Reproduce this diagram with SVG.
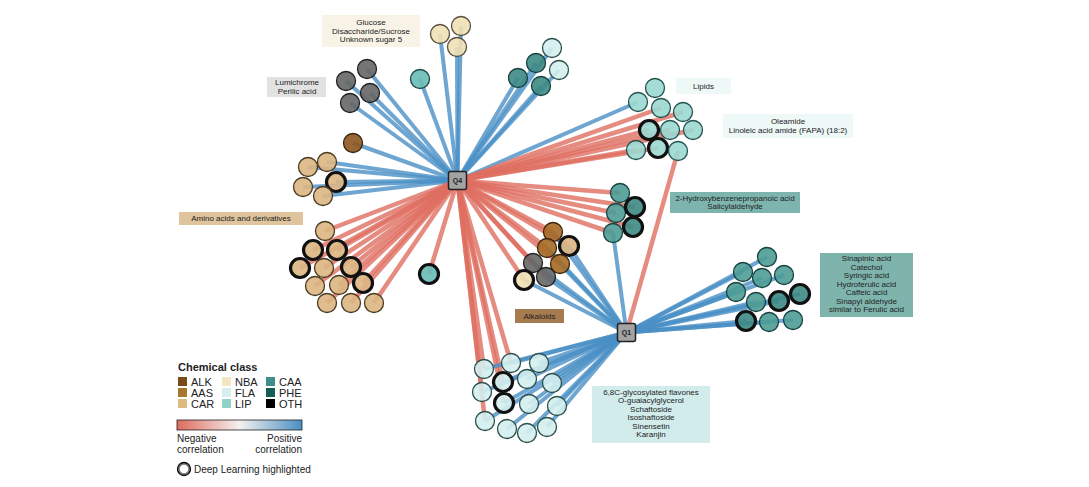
<svg xmlns="http://www.w3.org/2000/svg" width="1089" height="487" viewBox="0 0 1089 487">
<defs>
<linearGradient id="corr" x1="0" y1="0" x2="1" y2="0">
<stop offset="0" stop-color="#df6b5f"/>
<stop offset="0.5" stop-color="#f4f1ee"/>
<stop offset="1" stop-color="#4a8fc4"/>
</linearGradient>
<style>
text{font-family:"Liberation Sans",Arial,sans-serif;fill:#222}
.lb{font-size:8px;text-anchor:middle}
.p{stroke:#4a90c5;stroke-opacity:.8;stroke-width:4;fill:none}
.m{stroke:#df6e60;stroke-opacity:.8;stroke-width:4.5;fill:none}
circle.n{stroke-width:1.3;fill-opacity:.9}
.alk{fill:#8e5720;stroke:#3a2610}
.aas{fill:#a66a26;stroke:#3a2610}
.car{fill:#dbb683;stroke:#4a3a20}
.nba{fill:#efe1b5;stroke:#5a5040}
.fla{fill:#d4eeee;stroke:#2b4f4d}
.lip{fill:#9bd8d0;stroke:#235350}
.lip2{fill:#68bcb6;stroke:#1d4a47}
.caa{fill:#4c9c95;stroke:#17423f}
.phe{fill:#3d8a84;stroke:#17423f}
.oth{fill:#666;stroke:#222}
circle.hl{stroke:#111;stroke-width:3.2}
.q{fill:#a3a3a3;stroke:#222;stroke-width:1.5}
.ql{font-size:7px;font-weight:bold;text-anchor:middle}
.lg{font-size:11px}
.lg2{font-size:10px}
</style>
</defs>
<rect width="1089" height="487" fill="#fff"/>

<g id="connectors">
<!-- Q4 positive -->
<line class="p" x1="457.5" y1="180.5" x2="346" y2="81"/>
<line class="p" x1="457.5" y1="180.5" x2="367" y2="69"/>
<line class="p" x1="457.5" y1="180.5" x2="370" y2="93"/>
<line class="p" x1="457.5" y1="180.5" x2="350" y2="103"/>
<line class="p" x1="457.5" y1="180.5" x2="440" y2="34"/>
<line class="p" x1="457.5" y1="180.5" x2="461" y2="26"/>
<line class="p" x1="457.5" y1="180.5" x2="457" y2="47"/>
<line class="p" x1="457.5" y1="180.5" x2="420" y2="79"/>
<line class="p" x1="457.5" y1="180.5" x2="518" y2="78"/>
<line class="p" x1="457.5" y1="180.5" x2="536" y2="63"/>
<line class="p" x1="457.5" y1="180.5" x2="541" y2="86"/>
<line class="p" x1="457.5" y1="180.5" x2="552" y2="48"/>
<line class="p" x1="457.5" y1="180.5" x2="559" y2="70"/>
<line class="p" x1="457.5" y1="180.5" x2="638" y2="102"/>
<line class="p" x1="457.5" y1="180.5" x2="308" y2="167"/>
<line class="p" x1="457.5" y1="180.5" x2="327" y2="162"/>
<line class="p" x1="457.5" y1="180.5" x2="303" y2="187"/>
<line class="p" x1="457.5" y1="180.5" x2="336" y2="182"/>
<line class="p" x1="457.5" y1="180.5" x2="323" y2="196"/>
<line class="p" x1="457.5" y1="180.5" x2="353" y2="143"/>
<!-- Q4 negative -->
<line class="m" x1="457.5" y1="180.5" x2="661" y2="108"/>
<line class="m" x1="457.5" y1="180.5" x2="683" y2="112"/>
<line class="m" x1="457.5" y1="180.5" x2="649" y2="130"/>
<line class="m" x1="457.5" y1="180.5" x2="670" y2="130"/>
<line class="m" x1="457.5" y1="180.5" x2="693" y2="130"/>
<line class="m" x1="457.5" y1="180.5" x2="636" y2="150"/>
<line class="m" x1="457.5" y1="180.5" x2="658" y2="148"/>
<line class="m" x1="457.5" y1="180.5" x2="620" y2="193"/>
<line class="m" x1="457.5" y1="180.5" x2="616" y2="213"/>
<line class="m" x1="457.5" y1="180.5" x2="635" y2="207"/>
<line class="m" x1="457.5" y1="180.5" x2="633" y2="227"/>
<line class="m" x1="457.5" y1="180.5" x2="613" y2="233"/>
<line class="m" x1="457.5" y1="180.5" x2="325" y2="231"/>
<line class="m" x1="457.5" y1="180.5" x2="313" y2="250"/>
<line class="m" x1="457.5" y1="180.5" x2="337" y2="250"/>
<line class="m" x1="457.5" y1="180.5" x2="300" y2="268"/>
<line class="m" x1="457.5" y1="180.5" x2="324" y2="268"/>
<line class="m" x1="457.5" y1="180.5" x2="351" y2="267"/>
<line class="m" x1="457.5" y1="180.5" x2="315" y2="286"/>
<line class="m" x1="457.5" y1="180.5" x2="339" y2="285"/>
<line class="m" x1="457.5" y1="180.5" x2="363" y2="283"/>
<line class="m" x1="457.5" y1="180.5" x2="327" y2="303"/>
<line class="m" x1="457.5" y1="180.5" x2="351" y2="303"/>
<line class="m" x1="457.5" y1="180.5" x2="374" y2="303"/>
<line class="m" x1="457.5" y1="180.5" x2="429" y2="274"/>
<line class="m" x1="457.5" y1="180.5" x2="553" y2="232"/>
<line class="m" x1="457.5" y1="180.5" x2="547" y2="248"/>
<line class="m" x1="457.5" y1="180.5" x2="569" y2="246"/>
<line class="m" x1="457.5" y1="180.5" x2="560" y2="264"/>
<line class="m" x1="457.5" y1="180.5" x2="533" y2="263"/>
<line class="m" x1="457.5" y1="180.5" x2="524" y2="280"/>
<line class="m" x1="457.5" y1="180.5" x2="546" y2="277"/>
<line class="m" x1="457.5" y1="180.5" x2="484" y2="369"/>
<line class="m" x1="457.5" y1="180.5" x2="485" y2="421"/>
<line class="m" x1="457.5" y1="180.5" x2="482" y2="392"/>
<line class="m" x1="457.5" y1="180.5" x2="511" y2="363"/>
<line class="m" x1="457.5" y1="180.5" x2="503" y2="382"/>
<line class="m" x1="457.5" y1="180.5" x2="504" y2="403"/>
<!-- Q1 -->
<line class="m" x1="626.5" y1="332.5" x2="678" y2="151"/>
<line class="p" x1="626.5" y1="332.5" x2="613" y2="233"/>
<line class="p" x1="626.5" y1="332.5" x2="767" y2="257"/>
<line class="p" x1="626.5" y1="332.5" x2="743" y2="272"/>
<line class="p" x1="626.5" y1="332.5" x2="762" y2="278"/>
<line class="p" x1="626.5" y1="332.5" x2="784" y2="275"/>
<line class="p" x1="626.5" y1="332.5" x2="736" y2="292"/>
<line class="p" x1="626.5" y1="332.5" x2="756" y2="302"/>
<line class="p" x1="626.5" y1="332.5" x2="779" y2="301"/>
<line class="p" x1="626.5" y1="332.5" x2="800" y2="294"/>
<line class="p" x1="626.5" y1="332.5" x2="746" y2="321"/>
<line class="p" x1="626.5" y1="332.5" x2="769" y2="322"/>
<line class="p" x1="626.5" y1="332.5" x2="793" y2="320"/>
<line class="p" x1="626.5" y1="332.5" x2="553" y2="232"/>
<line class="p" x1="626.5" y1="332.5" x2="547" y2="248"/>
<line class="p" x1="626.5" y1="332.5" x2="569" y2="246"/>
<line class="p" x1="626.5" y1="332.5" x2="560" y2="264"/>
<line class="p" x1="626.5" y1="332.5" x2="533" y2="263"/>
<line class="p" x1="626.5" y1="332.5" x2="524" y2="280"/>
<line class="p" x1="626.5" y1="332.5" x2="546" y2="277"/>
<line class="p" x1="626.5" y1="332.5" x2="484" y2="369"/>
<line class="p" x1="626.5" y1="332.5" x2="511" y2="363"/>
<line class="p" x1="626.5" y1="332.5" x2="539" y2="363"/>
<line class="p" x1="626.5" y1="332.5" x2="503" y2="382"/>
<line class="p" x1="626.5" y1="332.5" x2="527" y2="379"/>
<line class="p" x1="626.5" y1="332.5" x2="552" y2="383"/>
<line class="p" x1="626.5" y1="332.5" x2="482" y2="392"/>
<line class="p" x1="626.5" y1="332.5" x2="504" y2="403"/>
<line class="p" x1="626.5" y1="332.5" x2="529" y2="404"/>
<line class="p" x1="626.5" y1="332.5" x2="557" y2="406"/>
<line class="p" x1="626.5" y1="332.5" x2="485" y2="421"/>
<line class="p" x1="626.5" y1="332.5" x2="507" y2="429"/>
<line class="p" x1="626.5" y1="332.5" x2="527" y2="433"/>
<line class="p" x1="626.5" y1="332.5" x2="547" y2="427"/>
</g>

<!-- Labels -->
<g id="label-sugars"><rect x="322" y="15" width="98" height="32" fill="#f8f3e6"/>
<text class="lb" x="371" y="25">Glucose</text><text class="lb" x="371" y="33.5">Disaccharide/Sucrose</text><text class="lb" x="371" y="42">Unknown sugar 5</text></g>
<g id="label-oth"><rect x="267" y="77" width="59" height="20" fill="#e2e2e2"/>
<text class="lb" x="297" y="85">Lumichrome</text><text class="lb" x="297" y="93.5">Perilic acid</text></g>
<g id="label-lipids"><rect x="676" y="78" width="55" height="16" fill="#eef8f7"/>
<text class="lb" x="703.5" y="88.5">Lipids</text></g>
<g id="label-oleamide"><rect x="723" y="114" width="130" height="24" fill="#eef8f7"/>
<text class="lb" x="788" y="124">Oleamide</text><text class="lb" x="788" y="133">Linoleic acid amide (FAPA) (18:2)</text></g>
<g id="label-amino"><rect x="179" y="212" width="124" height="13" fill="#dfc49d"/>
<text class="lb" x="241" y="221">Amino acids and derivatives</text></g>
<g id="label-phe"><rect x="670" y="192" width="130" height="21" fill="#7db5ae"/>
<text class="lb" x="735" y="200.5">2-Hydroxybenzenepropanoic acid</text><text class="lb" x="735" y="209">Salicylaldehyde</text></g>
<g id="label-alk"><rect x="515" y="309" width="49" height="14" fill="#a67b4f"/>
<text class="lb" x="539.5" y="319">Alkaloids</text></g>
<g id="label-caa"><rect x="820" y="253" width="93" height="64" fill="#7fb4ad"/>
<text class="lb" x="866.5" y="261">Sinapinic acid</text><text class="lb" x="866.5" y="269.5">Catechol</text><text class="lb" x="866.5" y="278">Syringic acid</text><text class="lb" x="866.5" y="286.5">Hydroferulic acid</text><text class="lb" x="866.5" y="295">Caffeic acid</text><text class="lb" x="866.5" y="303.5">Sinapyl aldehyde</text><text class="lb" x="866.5" y="312">similar to Ferulic acid</text></g>
<g id="label-fla"><rect x="592" y="386" width="118" height="57" fill="#d2ecec"/>
<text class="lb" x="651" y="394.5">6,8C-glycosylated flavones</text><text class="lb" x="651" y="403">O-guaiacylglycerol</text><text class="lb" x="651" y="411.5">Schaftoside</text><text class="lb" x="651" y="420">Isoshaftoside</text><text class="lb" x="651" y="428.5">Sinensetin</text><text class="lb" x="651" y="437">Karanjin</text></g>

<!-- Nodes -->
<g id="oth1"><circle class="n oth" cx="346" cy="81" r="9.5"/></g>
<g id="oth2"><circle class="n oth" cx="367" cy="69" r="9.5"/></g>
<g id="oth3"><circle class="n oth" cx="370" cy="93" r="9.5"/></g>
<g id="oth4"><circle class="n oth" cx="350" cy="103" r="9.5"/></g>
<g id="nba1"><circle class="n nba" cx="440" cy="34" r="9.5"/></g>
<g id="nba2"><circle class="n nba" cx="461" cy="26" r="9.5"/></g>
<g id="nba3"><circle class="n nba" cx="457" cy="47" r="9.5"/></g>
<g id="lip0"><circle class="n lip2" cx="420" cy="79" r="9.5"/></g>
<g id="caa1"><circle class="n phe" cx="518" cy="78" r="9.5"/></g>
<g id="caa2"><circle class="n phe" cx="536" cy="63" r="9.5"/></g>
<g id="caa3"><circle class="n phe" cx="541" cy="86" r="9.5"/></g>
<g id="fla1"><circle class="n fla" cx="552" cy="48" r="9.5"/></g>
<g id="fla2"><circle class="n fla" cx="559" cy="70" r="9.5"/></g>
<g id="lip1"><circle class="n lip" cx="655" cy="88" r="9.5"/></g>
<g id="lip2"><circle class="n lip" cx="638" cy="102" r="9.5"/></g>
<g id="lip3"><circle class="n lip" cx="661" cy="108" r="9.5"/></g>
<g id="lip4"><circle class="n lip" cx="683" cy="112" r="9.5"/></g>
<g id="lip5"><circle class="n lip hl" cx="649" cy="130" r="9.5"/></g>
<g id="lip6"><circle class="n lip" cx="670" cy="130" r="9.5"/></g>
<g id="lip7"><circle class="n lip" cx="693" cy="130" r="9.5"/></g>
<g id="lip8"><circle class="n lip" cx="636" cy="150" r="9.5"/></g>
<g id="lip9"><circle class="n lip hl" cx="658" cy="148" r="9.5"/></g>
<g id="lip10"><circle class="n lip" cx="678" cy="151" r="9.5"/></g>
<g id="alk1"><circle class="n alk" cx="353" cy="143" r="9.5"/></g>
<g id="car1"><circle class="n car" cx="308" cy="167" r="9.5"/></g>
<g id="car2"><circle class="n car" cx="327" cy="162" r="9.5"/></g>
<g id="car3"><circle class="n car" cx="303" cy="187" r="9.5"/></g>
<g id="car4"><circle class="n car hl" cx="336" cy="182" r="9.5"/></g>
<g id="car5"><circle class="n car" cx="323" cy="196" r="9.5"/></g>
<g id="car6"><circle class="n car" cx="325" cy="231" r="9.5"/></g>
<g id="car7"><circle class="n car hl" cx="313" cy="250" r="9.5"/></g>
<g id="car8"><circle class="n car hl" cx="337" cy="250" r="9.5"/></g>
<g id="car9"><circle class="n car hl" cx="300" cy="268" r="9.5"/></g>
<g id="car10"><circle class="n car" cx="324" cy="268" r="9.5"/></g>
<g id="car11"><circle class="n car hl" cx="351" cy="267" r="9.5"/></g>
<g id="car12"><circle class="n car" cx="315" cy="286" r="9.5"/></g>
<g id="car13"><circle class="n car" cx="339" cy="285" r="9.5"/></g>
<g id="car14"><circle class="n car hl" cx="363" cy="283" r="9.5"/></g>
<g id="car15"><circle class="n car" cx="327" cy="303" r="9.5"/></g>
<g id="car16"><circle class="n car" cx="351" cy="303" r="9.5"/></g>
<g id="car17"><circle class="n car" cx="374" cy="303" r="9.5"/></g>
<g id="lip11"><circle class="n lip2 hl" cx="429" cy="274" r="9.5"/></g>
<g id="aas1"><circle class="n aas" cx="553" cy="232" r="9.5"/></g>
<g id="aas2"><circle class="n aas" cx="547" cy="248" r="9.5"/></g>
<g id="car18"><circle class="n car hl" cx="569" cy="246" r="9.5"/></g>
<g id="aas3"><circle class="n aas" cx="560" cy="264" r="9.5"/></g>
<g id="oth5"><circle class="n oth" cx="533" cy="263" r="9.5"/></g>
<g id="nba4"><circle class="n nba hl" cx="524" cy="280" r="9.5"/></g>
<g id="oth6"><circle class="n oth" cx="546" cy="277" r="9.5"/></g>
<g id="phe1"><circle class="n caa" cx="620" cy="193" r="9.5"/></g>
<g id="phe2"><circle class="n caa" cx="616" cy="213" r="9.5"/></g>
<g id="phe3"><circle class="n phe hl" cx="635" cy="207" r="9.5"/></g>
<g id="phe4"><circle class="n phe hl" cx="633" cy="227" r="9.5"/></g>
<g id="phe5"><circle class="n caa" cx="613" cy="233" r="9.5"/></g>
<g id="caa4"><circle class="n caa" cx="767" cy="257" r="9.5"/></g>
<g id="caa5"><circle class="n caa" cx="743" cy="272" r="9.5"/></g>
<g id="caa6"><circle class="n caa" cx="762" cy="278" r="9.5"/></g>
<g id="caa7"><circle class="n caa" cx="784" cy="275" r="9.5"/></g>
<g id="caa8"><circle class="n caa" cx="736" cy="292" r="9.5"/></g>
<g id="caa9"><circle class="n caa" cx="756" cy="302" r="9.5"/></g>
<g id="caa10"><circle class="n phe hl" cx="779" cy="301" r="9.5"/></g>
<g id="caa11"><circle class="n phe hl" cx="800" cy="294" r="9.5"/></g>
<g id="caa12"><circle class="n phe hl" cx="746" cy="321" r="9.5"/></g>
<g id="caa13"><circle class="n caa" cx="769" cy="322" r="9.5"/></g>
<g id="caa14"><circle class="n caa" cx="793" cy="320" r="9.5"/></g>
<g id="fla3"><circle class="n fla" cx="484" cy="369" r="9.5"/></g>
<g id="fla4"><circle class="n fla" cx="511" cy="363" r="9.5"/></g>
<g id="fla5"><circle class="n fla" cx="539" cy="363" r="9.5"/></g>
<g id="fla6"><circle class="n fla hl" cx="503" cy="382" r="9.5"/></g>
<g id="fla7"><circle class="n fla" cx="527" cy="379" r="9.5"/></g>
<g id="fla8"><circle class="n fla" cx="552" cy="383" r="9.5"/></g>
<g id="fla9"><circle class="n fla" cx="482" cy="392" r="9.5"/></g>
<g id="fla10"><circle class="n fla hl" cx="504" cy="403" r="9.5"/></g>
<g id="fla11"><circle class="n fla" cx="529" cy="404" r="9.5"/></g>
<g id="fla12"><circle class="n fla" cx="557" cy="406" r="9.5"/></g>
<g id="fla13"><circle class="n fla" cx="485" cy="421" r="9.5"/></g>
<g id="fla14"><circle class="n fla" cx="507" cy="429" r="9.5"/></g>
<g id="fla15"><circle class="n fla" cx="527" cy="433" r="9.5"/></g>
<g id="fla16"><circle class="n fla" cx="547" cy="427" r="9.5"/></g>

<g id="Q4"><rect class="q" x="448.5" y="171.5" width="18" height="18" rx="2"/><text class="ql" x="457.5" y="183">Q4</text></g>
<g id="Q1"><rect class="q" x="617.5" y="323.5" width="18" height="18" rx="2"/><text class="ql" x="626.5" y="335">Q1</text></g>

<!-- Legend -->
<g id="legend">
<text x="178" y="371" font-size="11" font-weight="bold">Chemical class</text>
<rect x="178" y="377" width="9" height="9" fill="#7b4a1a"/><text class="lg" x="191" y="386">ALK</text>
<rect x="178" y="388" width="9" height="9" fill="#a9752f"/><text class="lg" x="191" y="397">AAS</text>
<rect x="178" y="399" width="9" height="9" fill="#dcbc80"/><text class="lg" x="191" y="408">CAR</text>
<rect x="222" y="377" width="9" height="9" fill="#f2e6c4"/><text class="lg" x="235" y="386">NBA</text>
<rect x="222" y="388" width="9" height="9" fill="#d6eeee"/><text class="lg" x="235" y="397">FLA</text>
<rect x="222" y="399" width="9" height="9" fill="#8fd2c8"/><text class="lg" x="235" y="408">LIP</text>
<rect x="266" y="377" width="9" height="9" fill="#3e8f89"/><text class="lg" x="279" y="386">CAA</text>
<rect x="266" y="388" width="9" height="9" fill="#145e56"/><text class="lg" x="279" y="397">PHE</text>
<rect x="266" y="399" width="9" height="9" fill="#000"/><text class="lg" x="279" y="408">OTH</text>
<rect x="177" y="420" width="125" height="10" fill="url(#corr)" stroke="#222" stroke-width="0.8"/>
<text class="lg2" x="177" y="442">Negative</text>
<text class="lg2" x="177" y="453">correlation</text>
<text class="lg2" x="302" y="442" text-anchor="end">Positive</text>
<text class="lg2" x="302" y="453" text-anchor="end">correlation</text>
<circle cx="184" cy="469" r="5.5" fill="#fff" stroke="#777" stroke-width="2.5"/>
<circle cx="184" cy="469" r="6.5" fill="none" stroke="#111" stroke-width="1.3"/>
<text class="lg2" x="194" y="473">Deep Learning highlighted</text>
</g>
</svg>
